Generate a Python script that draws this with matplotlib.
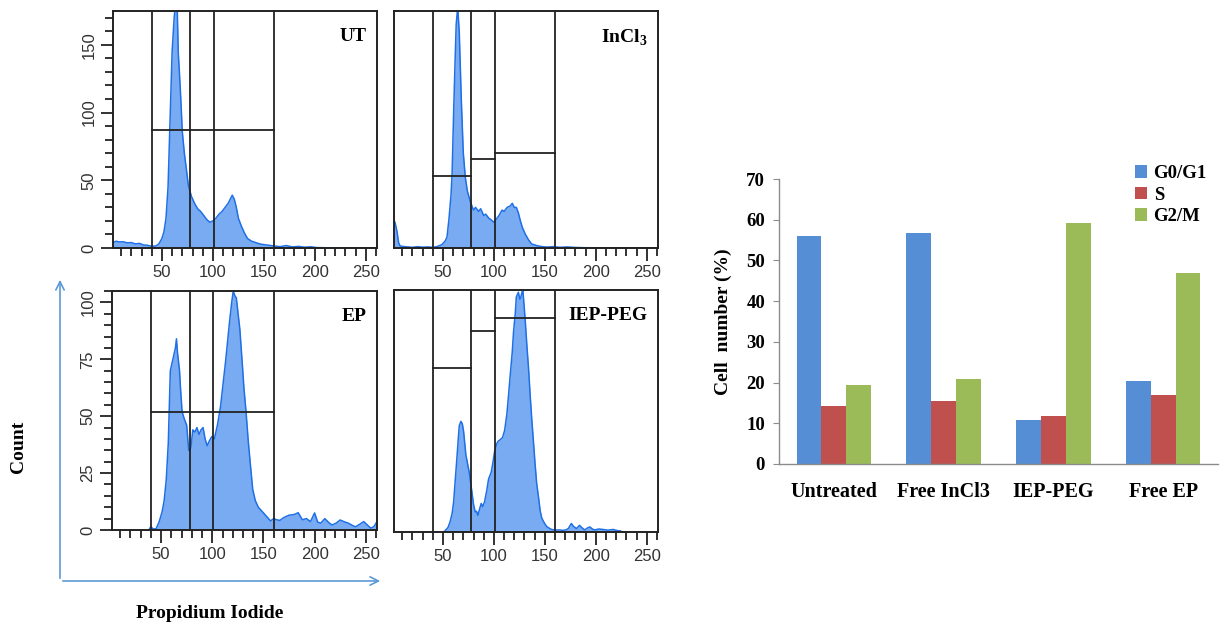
import matplotlib
matplotlib.use("Agg")
import matplotlib.pyplot as plt
from matplotlib.ticker import MultipleLocator

plt.rcParams["mathtext.fontset"] = "custom"
plt.rcParams["mathtext.rm"] = "Liberation Serif"
plt.rcParams["mathtext.bf"] = "Liberation Serif:bold"

# ---- histogram data (channel, count) ----
ut_x = [2, 5, 8, 12, 16, 20, 24, 28, 32, 36, 40, 44, 47, 50, 52, 54, 56, 58, 60, 62,
        63, 65, 66, 68, 70, 72, 74, 76, 79, 82, 85, 88, 91, 94, 97, 100, 103, 106, 109, 112,
        115, 117, 119, 121, 123, 125, 128, 131, 134, 138, 142, 146, 150, 155, 160, 166, 172, 178, 184, 190,
        196, 202, 210, 220, 240, 261]
ut_y = [4, 5, 4.5, 4.6, 3.8, 4, 3, 3.4, 2.2, 2, 1.2, 1.5, 3, 7, 12, 22, 45, 95, 145, 170,
        178, 178, 145, 118, 86, 70, 58, 46, 38, 33, 29, 27, 24, 21, 19, 20, 22, 25, 27, 30,
        33, 36, 39, 36, 30, 22, 16, 11, 7, 5, 4, 3, 2.5, 2, 1.5, 1, 1.8, 0.8, 1.2, 0.6,
        0.9, 0.3, 0.2, 0, 0, 0]

in_x = [2, 3, 5, 6.5, 8, 12, 16, 20, 25, 30, 35, 40, 44, 49, 52, 54, 56, 58, 59, 60.5,
        62, 63, 64.5, 66, 67, 68, 70, 72, 74, 77, 80, 82, 85, 87, 90, 92, 95, 97, 100, 102,
        105, 108, 110, 113, 116, 118, 120, 122, 124, 126, 128, 131, 134, 137, 142, 147, 152, 158, 165, 172,
        180, 190, 261]
in_y = [20, 19, 12, 4, 1.5, 1, 0.8, 0.5, 1, 0.6, 0.8, 0.5, 1, 2.5, 5, 8, 22, 40, 55, 100,
        140, 165, 178, 160, 135, 110, 70, 52, 42, 34, 28, 30, 27, 29, 24, 25, 22, 21, 19, 21,
        24, 28, 27, 30, 31, 33, 30, 30, 26, 20, 15, 10, 6, 3, 1.8, 1, 0.7, 1, 0.5, 0.8,
        0.4, 0.2, 0]

ep_x = [38, 40, 42, 45, 48, 51, 53, 55, 57, 59, 60, 62, 64, 65, 66, 68, 69, 70.5, 72.5, 75,
        77, 79, 81, 83, 85, 87, 89, 91, 93, 95, 97, 99.5, 102, 105, 108, 111, 113, 115, 117, 119,
        120.5, 122, 123.5, 125, 127, 129.5, 131, 133, 135, 137, 139.5, 142, 145, 148, 151, 154, 157, 160, 163, 166,
        170, 175, 180, 184, 188, 192, 196, 200, 203, 206, 210, 214, 217, 221, 225, 229, 233, 237, 240, 244,
        248, 252, 255, 258, 261]
ep_y = [0, 1.5, 0.5, 0.5, 3.5, 8, 13, 22, 38, 70, 72, 76, 80, 84, 78, 70, 62, 52, 49, 46,
        35, 36, 44, 43, 45, 42, 44, 45, 40, 37, 39, 41, 40, 46, 54, 66, 74, 83, 92, 100,
        105, 103, 102, 96, 88, 72, 62, 52, 40, 30, 18, 13, 10, 8.5, 7, 5.5, 4, 5, 4.5, 4.2,
        5.5, 6.5, 6.8, 7.6, 4.5, 5, 3.7, 7.5, 3.5, 3, 5, 3.2, 2.2, 3, 4.4, 3.6, 3, 2, 1.4, 2.5,
        3.7, 2, 0.8, 1.5, 3.7]

iep_x = [52, 55, 57, 59, 60.5, 62, 63.7, 65, 66, 67.6, 69, 70.3, 72.5, 74, 75.8, 77, 78.4, 80, 81.7, 83,
         84.3, 86, 87.6, 89, 90.8, 93, 94.8, 97.4, 99, 100.7, 102.5, 104, 106, 108.5, 110.5, 112.7, 114.5, 116, 118, 119.3,
         121, 122, 123, 124, 125.5, 126.5, 127.5, 128.4, 129.5, 130.7, 132.5, 134, 135.5, 137, 139, 140.5, 142, 143.8, 145.5, 147,
         150, 152, 156, 160, 164, 168, 171, 173, 176, 178, 181, 184, 186, 189, 192, 194, 197, 199, 203, 207,
         212, 217, 221, 224, 226]
iep_y = [0.5, 2, 4.4, 8, 13, 22, 32, 40, 46, 48, 47, 43.6, 33.5, 30, 26, 22, 17.5, 12, 8.7, 9,
         7.2, 10, 12.4, 11, 13, 18, 23, 26, 30, 35, 38, 39.3, 40, 41, 44, 51, 60, 68, 78, 87,
         95, 102, 103, 104, 101, 102, 104, 105, 99, 92, 80, 71, 60, 50, 38, 29, 21, 15, 9, 6,
         3.5, 2.3, 1.2, 0.8, 0.9, 0.7, 1, 1.5, 3.7, 2.5, 1.5, 2.9, 2, 0.9, 1.8, 2.2, 1.2, 0.9, 1.3, 1.1,
         0.8, 1.1, 0.6, 0.5, 0]

# gate edges and the height of the marker line in each gate
gate_edges = [40, 78, 101, 160]
ut_gates = [87, 87, 87]
in_gates = [53, 65.5, 70.5]
ep_gates = [52, 52, 52]
iep_gates = [71, 87, 93]

# ---- bar chart data ----
groups = ["Untreated", "Free InCl3", "IEP-PEG", "Free EP"]
g0g1 = [56, 56.8, 10.7, 20.5]
s_phase = [14.3, 15.5, 11.9, 16.9]
g2m = [19.3, 20.8, 59.1, 47]

W, H = 1228, 631
fig = plt.figure(figsize=(W / 100, H / 100), dpi=100)

def box(x0, y0, x1, y1):
    return [x0 / W, 1 - y1 / H, (x1 - x0) / W, (y1 - y0) / H]

serif = "Liberation Serif"
sans = "Liberation Sans"
fill_c = "#78ABF2"
line_c = "#1F6FE6"

def hist_panel(rect, xs, ys, ytop, gates, label, ystep=None, ylabels=None):
    ax = fig.add_axes(rect)
    ax.fill_between(xs, ys, 0, color=fill_c, lw=0)
    ax.plot(xs, ys, color=line_c, lw=1.1)
    for e in gate_edges:
        ax.axvline(e, color="#222222", lw=1.3)
    for i, h in enumerate(gates):
        ax.plot([gate_edges[i], gate_edges[i + 1]], [h, h], color="#222222", lw=1.3)
    ax.set_xlim(2, 261)
    ax.set_ylim(0, ytop)
    ax.xaxis.set_minor_locator(MultipleLocator(10))
    ax.set_xticks([50, 100, 150, 200, 250])
    if ystep:
        ax.set_yticks(ylabels)
        ax.yaxis.set_minor_locator(MultipleLocator(ystep))
        for t in ax.get_yticklabels():
            t.set_rotation(90)
            t.set_va("center")
    else:
        ax.set_yticks([])
    ax.tick_params(which="major", length=9, width=1.3, direction="out", labelsize=12,
                   colors="#222222", labelcolor="#333333", pad=3)
    ax.tick_params(which="minor", length=6, width=1.3, direction="out", colors="#222222")
    for lab in ax.get_xticklabels() + ax.get_yticklabels():
        lab.set_fontfamily(sans)
    for sp in ax.spines.values():
        sp.set_linewidth(1.4)
        sp.set_color("#222222")
    ax.text(0.96, 0.93, label, transform=ax.transAxes, ha="right", va="top",
            fontfamily=serif, fontweight="bold", fontsize=14)
    return ax

hist_panel(box(113, 11, 377, 248), ut_x, ut_y, 175, ut_gates, "UT", 10, [0, 50, 100, 150])
hist_panel(box(394, 11, 658, 248), in_x, in_y, 175, in_gates, r"InCl$_\mathbf{3}$")
hist_panel(box(112, 291, 377, 530), ep_x, ep_y, 105, ep_gates, "EP", 5, [0, 25, 50, 75, 100])
hist_panel(box(394, 290, 658, 532), iep_x, iep_y, 105, iep_gates, "IEP-PEG")

# blue axis arrows
arrow_c = "#5B9BD5"
fig.add_artist(matplotlib.patches.FancyArrowPatch((60 / W, 1 - 581 / H), (60 / W, 1 - 277 / H),
               transform=fig.transFigure, arrowstyle="->,head_length=6,head_width=3",
               color=arrow_c, lw=1.2))
fig.add_artist(matplotlib.patches.FancyArrowPatch((60 / W, 1 - 581 / H), (383 / W, 1 - 581 / H),
               transform=fig.transFigure, arrowstyle="->,head_length=6,head_width=3",
               color=arrow_c, lw=1.2))
fig.text(19 / W, 1 - 447 / H, "Count", rotation=90, ha="center", va="center",
         fontfamily=serif, fontweight="bold", fontsize=14)
fig.text(210 / W, 1 - 614 / H, "Propidium Iodide", ha="center", va="center",
         fontfamily=serif, fontweight="bold", fontsize=14)

# ---- bar chart ----
bx = fig.add_axes(box(779, 179, 1218, 464))
pos = list(range(len(groups)))
bw = 0.227
b1 = bx.bar([p - bw for p in pos], g0g1, bw, color="#558ED5", label="G0/G1")
b2 = bx.bar(pos, s_phase, bw, color="#C0504D", label="S")
b3 = bx.bar([p + bw for p in pos], g2m, bw, color="#9BBB59", label="G2/M")
bx.set_xlim(-0.5, 3.5)
bx.set_ylim(0, 70)
bx.set_yticks(range(0, 71, 10))
bx.set_xticks(pos)
bx.set_xticklabels(groups)
for sp in ["top", "right"]:
    bx.spines[sp].set_visible(False)
for sp in ["left", "bottom"]:
    bx.spines[sp].set_color("#8c8c8c")
    bx.spines[sp].set_linewidth(1.0)
bx.tick_params(axis="y", length=4, color="#8c8c8c", labelsize=13.5, pad=6)
bx.tick_params(axis="x", length=0, labelsize=14.5, pad=13)
for lab in bx.get_xticklabels() + bx.get_yticklabels():
    lab.set_fontfamily(serif)
    lab.set_fontweight("bold")
bx.set_ylabel("Cell  number (%)", fontfamily=serif, fontweight="bold", fontsize=14, labelpad=10)
fig.legend(handles=[b1, b2, b3], loc="upper left", bbox_to_anchor=(1118 / W, 1 - 148 / H),
           frameon=False, handlelength=0.65, handleheight=0.65, handletextpad=0.35,
           labelspacing=0.25, prop={"family": serif, "weight": "bold", "size": 13.5})

fig.savefig("out.png", dpi=100)
